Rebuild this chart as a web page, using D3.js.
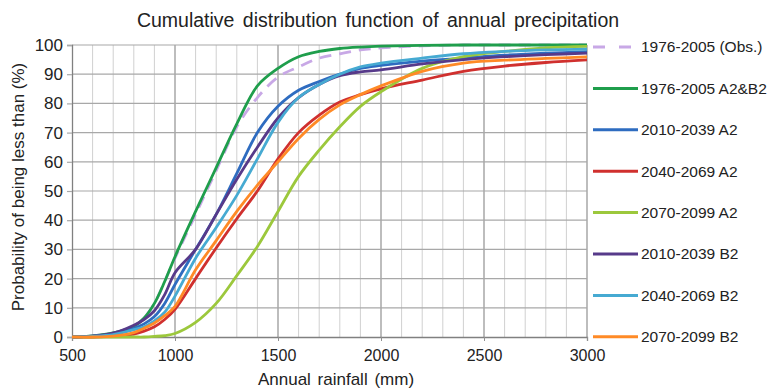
<!DOCTYPE html>
<html>
<head>
<meta charset="utf-8">
<script src="https://cdn.jsdelivr.net/npm/d3@7"></script>
<style>
  body { margin: 0; background: #fff; }
  svg { font-family: "Liberation Sans", Arial, sans-serif; }
</style>
</head>
<body>
<svg id="chart" width="768" height="392"></svg>
<script>
// annual rainfall (mm) sample points
const rain = [500, 600, 700, 800, 850, 900, 950, 1000, 1100, 1200, 1300, 1400, 1500, 1600, 1700, 1800, 1900, 2000, 2200, 2400, 2600, 2800, 3000];

// cumulative probability (%) per series
const obs      = [0, 0.4, 1.4, 3.6, 6.5, 11.5, 19, 27, 42, 57, 72, 82, 89, 92.5, 95.5, 97, 98.3, 99, 99.7, 100, 100, 100, 100];
const base     = [0, 0.4, 1.4, 3.6, 6.5, 11.5, 19, 27.5, 43, 58, 73, 86, 92, 96, 97.8, 98.8, 99.3, 99.6, 99.9, 100, 100, 100, 100];
const a2_2010  = [0, 0.3, 1, 3, 4.5, 7, 11.5, 18, 30, 42, 56, 70, 79, 84.5, 87.5, 90, 92, 93, 94.5, 95.5, 96.5, 97.2, 97.7];
const a2_2040  = [0, 0, 0.3, 1, 2, 3.5, 6, 9.5, 20, 30.5, 40.5, 50, 61, 70, 76, 80.5, 83, 85, 88, 91, 92.8, 94, 94.9];
const a2_2070  = [0, 0, 0, 0, 0, 0.2, 0.5, 1.2, 5, 11.5, 21, 31, 43, 55, 64, 72, 79, 84, 92, 96, 97.8, 99, 99.5];
const b2_2010  = [0, 0.3, 1.3, 4, 6, 9, 14.5, 22, 30, 42, 54, 65, 75, 82, 86.5, 89.5, 90.8, 91.5, 93.5, 95, 96, 96.7, 97.2];
const b2_2040  = [0, 0.2, 0.8, 2.5, 3.5, 5.5, 8.5, 14, 27, 37.5, 48.5, 61, 73.5, 82, 86.5, 90, 92.5, 93.8, 95.5, 97, 97.8, 98.3, 98.6];
const b2_2070  = [0, 0, 0.3, 1.5, 3, 4.8, 7.3, 10.5, 23, 33, 43, 52, 60, 68, 74.5, 79.5, 83, 86, 91, 93.8, 94.8, 95.4, 95.9];

const labels = ["1976-2005 (Obs.)", "1976-2005 A2&B2", "2010-2039 A2", "2040-2069 A2",
                "2070-2099 A2", "2010-2039 B2", "2040-2069 B2", "2070-2099 B2"];
const colors = ["#c8a8e6", "#1f9e4c", "#2e6cc0", "#d0302e", "#9cc83c", "#573a8a", "#46aad2", "#ff8a26"];
const seriesValues = [obs, base, a2_2010, a2_2040, a2_2070, b2_2010, b2_2040, b2_2070];

const xTicks = [500, 1000, 1500, 2000, 2500, 3000];
const yTicks = [0, 10, 20, 30, 40, 50, 60, 70, 80, 90, 100];

const svg = d3.select("#chart");
const margin = { top: 45, left: 72, right: 181, bottom: 55 };
const width = 768, height = 392;

const x = d3.scaleLinear().domain([500, 3000]).range([margin.left, width - margin.right]);
const y = d3.scaleLinear().domain([0, 100]).range([height - margin.bottom, margin.top]);

// grid
const grid = svg.append("g");
d3.range(600, 3001, 100).forEach(v => {
    grid.append("line")
        .attr("x1", x(v)).attr("x2", x(v))
        .attr("y1", y(100)).attr("y2", y(0))
        .attr("stroke", v % 500 === 0 ? "#9a9a9a" : "#d0d0d0")
        .attr("stroke-width", v % 500 === 0 ? 1.3 : 1);
});
yTicks.filter(v => v > 0).forEach(v => {
    grid.append("line")
        .attr("x1", x(500)).attr("x2", x(3000))
        .attr("y1", y(v)).attr("y2", y(v))
        .attr("stroke", "#a8a8a8").attr("stroke-width", 1.2);
});

// axes
const xAxis = d3.axisBottom(x).tickValues(xTicks).tickSize(4).tickPadding(9).tickFormat(d3.format("d"));
const yAxis = d3.axisLeft(y).tickValues(yTicks).tickSize(5).tickPadding(4).tickFormat(d3.format("d"));

svg.append("g").attr("transform", `translate(0,${y(0)})`).call(xAxis)
    .call(g => g.select(".domain").attr("stroke", "#808080").attr("stroke-width", 1.3))
    .call(g => g.selectAll(".tick line").attr("stroke", "#909090"))
    .call(g => g.selectAll("text").attr("font-size", 16).attr("fill", "#222")
        .attr("font-family", "Liberation Sans, Arial, sans-serif"));

svg.append("g").attr("transform", `translate(${x(500)},0)`).call(yAxis)
    .call(g => g.select(".domain").attr("stroke", "#808080").attr("stroke-width", 1.3))
    .call(g => g.selectAll(".tick line").attr("stroke", "#a8a8a8").attr("stroke-width", 1.2))
    .call(g => g.selectAll("text").attr("font-size", 17).attr("fill", "#222")
        .attr("font-family", "Liberation Sans, Arial, sans-serif"));

// curves
const line = d3.line()
    .x(d => x(d[0]))
    .y(d => y(d[1]))
    .curve(d3.curveCatmullRom.alpha(0.5));

seriesValues.forEach((vals, i) => {
    svg.append("path")
        .datum(rain.map((r, j) => [r, vals[j]]))
        .attr("fill", "none")
        .attr("stroke", colors[i])
        .attr("stroke-width", 2.8)
        .attr("stroke-linejoin", "round")
        .attr("stroke-dasharray", i === 0 ? "12,8" : null)
        .attr("d", line);
});

// legend
const legend = svg.append("g");
labels.forEach((lab, i) => {
    const ly = 47 + i * 41.4;
    legend.append("line")
        .attr("x1", 593).attr("x2", 638)
        .attr("y1", ly).attr("y2", ly)
        .attr("stroke", colors[i]).attr("stroke-width", 3)
        .attr("stroke-dasharray", i === 0 ? "12,14" : null);
    legend.append("text")
        .attr("x", 641).attr("y", ly)
        .attr("dy", "0.35em")
        .attr("font-size", 15.5).attr("fill", "#222")
        .text(lab);
});

// titles
svg.append("text")
    .attr("x", 378).attr("y", 27)
    .attr("text-anchor", "middle")
    .attr("font-size", 19.5).attr("fill", "#222")
    .attr("word-spacing", 3)
    .text("Cumulative distribution function of annual precipitation");

svg.append("text")
    .attr("x", 336).attr("y", 385)
    .attr("text-anchor", "middle")
    .attr("font-size", 17).attr("fill", "#222")
    .attr("word-spacing", 2)
    .text("Annual rainfall (mm)");

svg.append("text")
    .attr("transform", "translate(24,187) rotate(-90)")
    .attr("text-anchor", "middle")
    .attr("font-size", 17).attr("fill", "#222")
    .text("Probability of being less than (%)");
</script>
</body>
</html>
